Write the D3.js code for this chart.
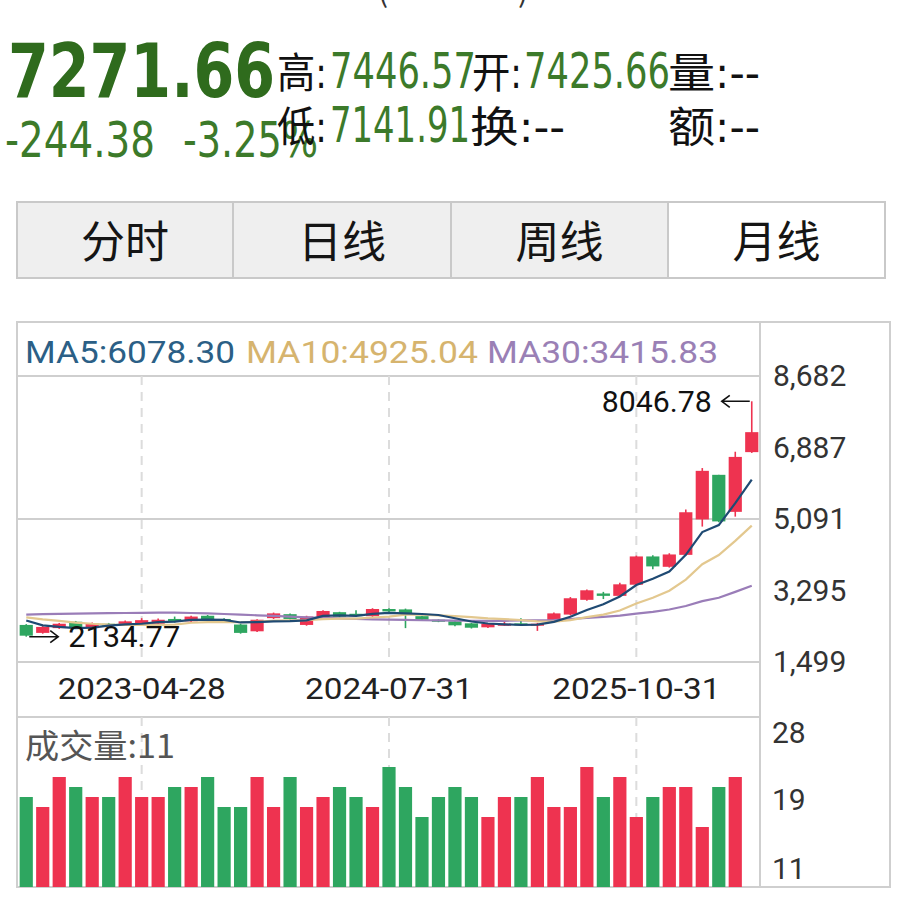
<!DOCTYPE html>
<html><head><meta charset="utf-8">
<script src="https://cdn.jsdelivr.net/npm/d3@7/dist/d3.min.js"></script>
<style>
html,body{margin:0;padding:0;background:#fff;}
svg{display:block;}
</style></head>
<body>
<script>
// ---------------- data ----------------
const categories = ["2022-09","2022-10","2022-11","2022-12",
  "2023-01","2023-02","2023-03","2023-04","2023-05","2023-06","2023-07","2023-08","2023-09","2023-10","2023-11","2023-12",
  "2024-01","2024-02","2024-03","2024-04","2024-05","2024-06","2024-07","2024-08","2024-09","2024-10","2024-11","2024-12",
  "2025-01","2025-02","2025-03","2025-04","2025-05","2025-06","2025-07","2025-08","2025-09","2025-10","2025-11","2025-12",
  "2026-01","2026-02","2026-03","2026-04","2026-05"];
const opens  = [2430,2230,2350,2510,2350,2460,2440,2440,2460,2580,2520,2660,2580,2440,2270,2600,2700,2430,2610,2750,2710,2650,2830,2820,2650,2560,2520,2470,2370,2430,2470,2440,2510,2690,3060,3220,3160,3440,4150,3890,4190,5080,6200,5270,6770];
const highs  = [2450,2400,2480,2530,2490,2480,2540,2600,2590,2640,2660,2680,2600,2460,2570,2740,2720,2660,2800,2760,2800,2850,2850,2840,2660,2570,2530,2480,2480,2590,2600,2480,2740,3130,3320,3260,3490,4170,4180,4230,5330,6370,6200,6780,8046.78];
const lows   = [2134.77,2210,2330,2330,2330,2400,2420,2420,2440,2490,2500,2530,2500,2210,2250,2580,2560,2410,2590,2620,2630,2630,2750,2350,2540,2500,2400,2340,2350,2410,2420,2280,2490,2670,3040,3080,3140,3420,3830,3870,4170,4900,5010,5150,6750];
const closes = [2160,2380,2460,2350,2460,2420,2520,2550,2560,2510,2640,2550,2530,2230,2560,2720,2580,2640,2780,2640,2650,2830,2770,2710,2560,2530,2420,2360,2460,2460,2440,2460,2720,3100,3300,3160,3450,4150,3900,4200,5260,6300,5030,6650,7271.66];
const volumes = [20,19,22,21,20,20,22,20,20,21,21,22,19,19,22,19,22,19,20,21,20,19,23,21,18,20,21,20,18,20,20,22,19,19,23,20,22,18,20,21,21,17,21,22,11];
const ma5  = [2540,2420,2380,2350,2362,2414,2442,2460,2502,2512,2556,2562,2558,2492,2502,2518,2524,2546,2656,2672,2658,2708,2734,2720,2704,2680,2598,2516,2466,2446,2428,2436,2508,2636,2804,2948,3146,3432,3592,3772,4192,4762,4938,5488,6078.30];
const ma10 = [2620,2570,2530,2490,2460,2440,2430,2430,2430,2437,2485,2502,2509,2497,2507,2537,2543,2552,2574,2587,2588,2616,2640,2688,2688,2669,2653,2625,2593,2575,2554,2517,2512,2551,2625,2688,2791,2970,3114,3288,3570,3954,4185,4540,4925.04];
const ma30 = [2690,2700,2710,2715,2720,2725,2730,2735,2740,2738,2730,2720,2705,2690,2672,2655,2638,2622,2608,2595,2583,2572,2562,2555,2548,2542,2538,2535,2534,2533,2542,2545,2554,2579,2607,2631,2662,2716,2760,2817,2904,3029,3112,3260,3415.83];

const priceTicks = [8682, 6887, 5091, 3295, 1499];
const volTicks = [28, 19.5, 11];
const volTickLabels = ["28", "19", "11"];
const dateTickCats = ["2023-04", "2024-07", "2025-10"];
const dateTickLabels = ["2023-04-28", "2024-07-31", "2025-10-31"];
const maNames = ["MA5", "MA10", "MA30"];
const maValues = ["6078.30", "4925.04", "3415.83"];
const tabs = ["分时", "日线", "周线", "月线"];
const volumeLabel = "成交量:11";
const quoteLast = "7271.66", quoteChg = "-244.38", quotePct = "-3.25%";
const quoteHigh = "7446.57", quoteOpen = "7425.66", quoteLow = "7141.91";

// ---------------- drawing ----------------
const W = 911, H = 921;
const svg = d3.select("body").append("svg").attr("width", W).attr("height", H);
const RED = "#ee3350", GREEN = "#2ea660", GRID = "#cfcfcf";
const CJK = "'Noto Sans CJK SC','Noto Sans',sans-serif";
const NUM = "Roboto,'Noto Sans',sans-serif";
const COND = "'Liberation Sans Narrow','DejaVu Sans Condensed','Noto Sans CJK SC',sans-serif";
const QGREEN = "#3c7a2a";

function txt(x, y, s, o) {
  const t = svg.append("text").attr("x", x).attr("y", y).text(s)
    .attr("font-family", o.family || NUM).attr("font-size", o.size)
    .attr("fill", o.fill || "#111");
  if (o.weight) t.attr("font-weight", o.weight);
  if (o.anchor) t.attr("text-anchor", o.anchor);
  if (o.len) t.attr("textLength", o.len).attr("lengthAdjust", "spacingAndGlyphs");
  if (o.base) t.attr("dominant-baseline", o.base);
  return t;
}

// cut-off title brackets at very top
txt(378, 2, "(", {size: 30, fill: "#333", family: CJK});
txt(518, 2, ")", {size: 30, fill: "#333", family: CJK});

// quote header
txt(8, 97, quoteLast, {size: 74, weight: "bold", fill: "#2f6b1d", family: COND, len: 267});
txt(277, 88, "高:", {size: 42, family: COND, len: 50});
txt(330, 88, quoteHigh, {size: 49, fill: QGREEN, family: COND, len: 146});
txt(472, 88, "开:", {size: 42, family: COND, len: 50});
txt(524, 88, quoteOpen, {size: 49, fill: QGREEN, family: COND, len: 146});
txt(668, 88, "量:--", {size: 42, family: COND, len: 92});
txt(5, 157, quoteChg, {size: 49, fill: QGREEN, family: COND, len: 150});
txt(183, 157, quotePct, {size: 49, fill: QGREEN, family: COND, len: 135});
txt(277, 142, "低:", {size: 42, family: COND, len: 50});
txt(330, 142, quoteLow, {size: 49, fill: QGREEN, family: COND, len: 140});
txt(470, 142, "换:--", {size: 42, family: COND, len: 95});
txt(668, 142, "额:--", {size: 42, family: COND, len: 92});

// tabs
const tabX = [17, 233, 451, 668, 885];
tabs.forEach((t, i) => {
  svg.append("rect").attr("x", tabX[i]).attr("y", 202).attr("width", tabX[i+1]-tabX[i]).attr("height", 76)
    .attr("fill", i < 3 ? "#efefef" : "#ffffff").attr("stroke", "#c9c9c9").attr("stroke-width", 2);
  txt((tabX[i]+tabX[i+1])/2, 258, t, {size: 44, family: CJK, anchor: "middle", fill: "#151515"});
});

// chart frame
const X0 = 18, X1 = 760, PT = 376, PB = 662, VT = 717, VB = 887;
const frame = svg.append("g").attr("stroke", GRID).attr("stroke-width", 2).attr("fill", "none");
frame.append("rect").attr("x", 17).attr("y", 322).attr("width", 873).attr("height", VB-322);
frame.append("line").attr("x1", X1).attr("x2", X1).attr("y1", 322).attr("y2", VB);
[PT, (PT+PB)/2, PB, VT].forEach(y => frame.append("line").attr("x1", 17).attr("x2", X1).attr("y1", y).attr("y2", y));

// scales
const x = d3.scaleBand().domain(categories).range([X0, X1]).paddingInner(0.2).paddingOuter(0.1);
const bw = x.bandwidth();
const cx = c => x(c) + bw/2;
const y = d3.scaleLinear().domain([1499, 8682]).range([PB, PT]);
const vy = d3.scaleLinear().domain([11, 28]).range([VB, VT]);

// dashed verticals
dateTickCats.forEach(c => {
  [[PT, PB], [VT, VB]].forEach(([a, b]) => svg.append("line").attr("x1", cx(c)).attr("x2", cx(c))
    .attr("y1", a).attr("y2", b).attr("stroke", "#dcdcdc").attr("stroke-width", 2).attr("stroke-dasharray", "9,7"));
});

// MA legend
const maColors = ["#2b5f86", "#d6b46e", "#9a80b5"];
const legX = [25, 246, 487], legW = [210, 232, 231];
maNames.forEach((n, i) => txt(legX[i], 363, n + ":" + maValues[i], {size: 32, fill: maColors[i], len: legW[i]}));

// candles
const idx = d3.range(categories.length);
const colorOf = i => closes[i] >= opens[i] ? RED : GREEN;
const cg = svg.append("g");
cg.selectAll("line").data(idx).join("line")
  .attr("x1", i => cx(categories[i])).attr("x2", i => cx(categories[i]))
  .attr("y1", i => y(highs[i])).attr("y2", i => y(lows[i]))
  .attr("stroke", colorOf).attr("stroke-width", 1.6);
cg.selectAll("rect").data(idx).join("rect")
  .attr("x", i => x(categories[i])).attr("width", bw)
  .attr("y", i => y(Math.max(opens[i], closes[i])))
  .attr("height", i => Math.max(2, Math.abs(y(opens[i]) - y(closes[i]))))
  .attr("fill", colorOf);

// MA lines
const lineGen = d3.line().x((d, i) => cx(categories[i])).y(d => y(d));
[[ma30, "#9a7db8", 2.2], [ma10, "#e3c88f", 2.2], [ma5, "#1f4a73", 2.2]].forEach(([arr, col, w]) =>
  svg.append("path").attr("d", lineGen(arr)).attr("fill", "none").attr("stroke", col).attr("stroke-width", w));

// max / min markers
function arrow(x1, x2, yy) { // head at x2
  const dir = x2 > x1 ? -1 : 1;
  svg.append("path").attr("d", `M${x1},${yy}L${x2},${yy}M${x2+dir*8},${yy-6}L${x2},${yy}L${x2+dir*8},${yy+6}`)
    .attr("fill", "none").attr("stroke", "#111").attr("stroke-width", 1.6);
}
const iMax = d3.maxIndex(highs), iMin = d3.minIndex(lows);
const mxX = cx(categories[iMax]), mxY = y(highs[iMax]);
arrow(mxX - 2, mxX - 30, mxY);
txt(mxX - 40, mxY, d3.format(".2f")(highs[iMax]), {size: 30, anchor: "end", base: "central", len: 110});
const mnX = cx(categories[iMin]), mnY = y(lows[iMin]);
arrow(mnX + 3, mnX + 32, mnY);
txt(mnX + 42, mnY, d3.format(".2f")(lows[iMin]), {size: 30, base: "central", len: 112});

// price axis
const pa = svg.append("g").attr("transform", `translate(${X1},0)`)
  .call(d3.axisRight(y).tickValues(priceTicks).tickFormat(d3.format(",")).tickSize(0).tickPadding(13));
pa.select(".domain").remove();
pa.selectAll("text").attr("font-family", NUM).attr("font-size", 30).attr("fill", "#333");

// date axis
const da = svg.append("g").attr("transform", `translate(0,${PB})`)
  .call(d3.axisBottom(x).tickValues(dateTickCats).tickFormat((d, i) => dateTickLabels[i]).tickSize(0).tickPadding(16));
da.select(".domain").remove();
da.selectAll("text").attr("font-family", NUM).attr("font-size", 30).attr("fill", "#222")
  .attr("textLength", 168).attr("lengthAdjust", "spacingAndGlyphs");

// volume bars
svg.append("g").selectAll("rect").data(idx).join("rect")
  .attr("x", i => x(categories[i])).attr("width", bw)
  .attr("y", i => vy(volumes[i])).attr("height", i => VB - vy(volumes[i]))
  .attr("fill", colorOf);

// volume axis
const va = svg.append("g").attr("transform", `translate(${X1},0)`)
  .call(d3.axisRight(vy).tickValues(volTicks).tickFormat((d, i) => volTickLabels[i]).tickSize(0).tickPadding(12));
va.select(".domain").remove();
va.selectAll("text").attr("font-family", NUM).attr("font-size", 30).attr("fill", "#333")
  .attr("dy", (d, i) => i === 0 ? "0.85em" : i === 2 ? "-0.3em" : "0.25em");

txt(25, 758, volumeLabel, {size: 33, fill: "#555", family: CJK, len: 150});
</script>
</body></html>
